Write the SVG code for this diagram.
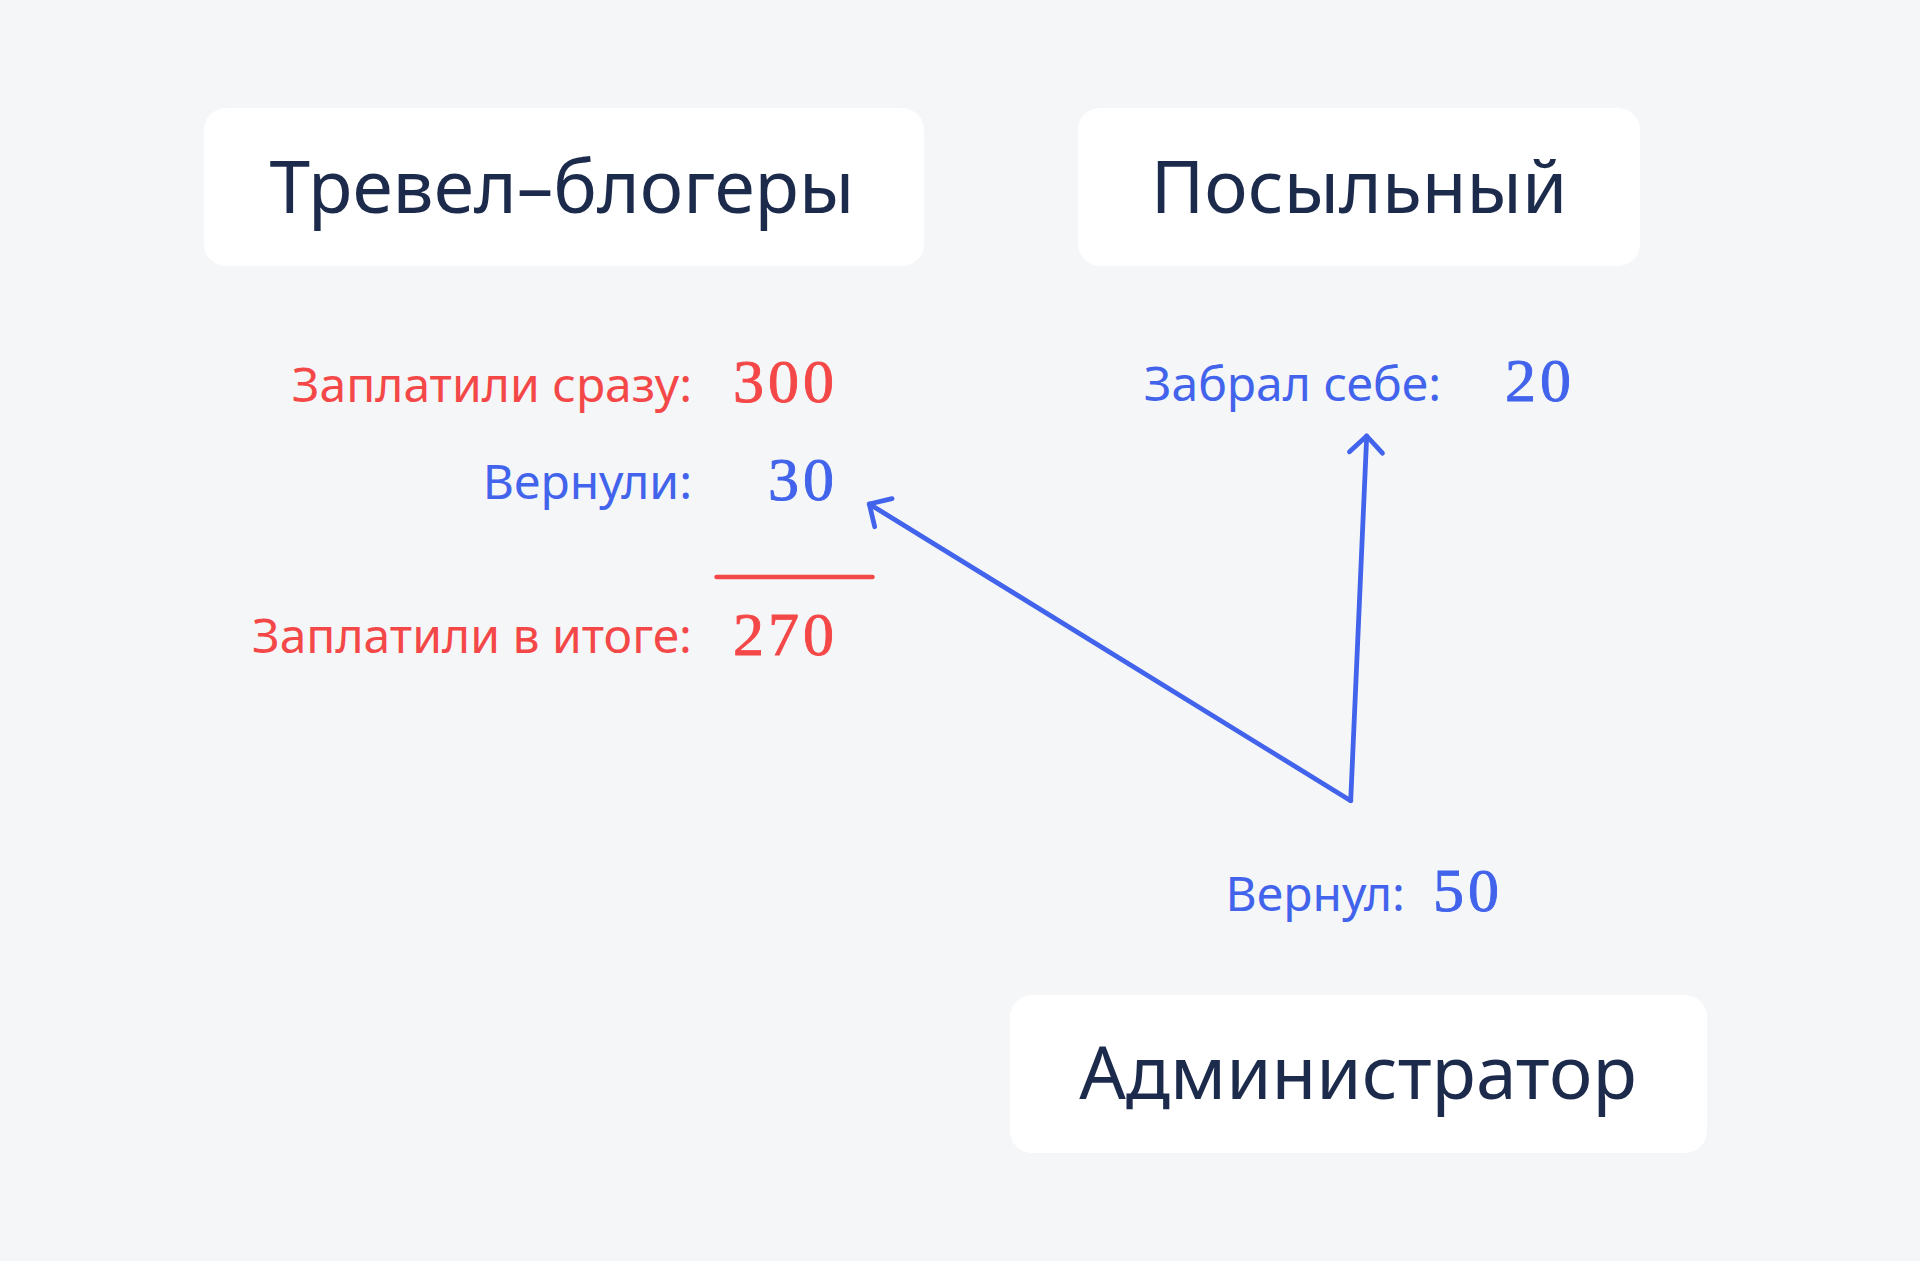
<svg xmlns="http://www.w3.org/2000/svg" width="1920" height="1261" viewBox="0 0 1920 1261">
<style>
.box{fill:#ffffff}
.title{font-family:"Noto Sans","Open Sans",sans-serif;font-size:73px;fill:#1c2b4b;text-anchor:middle}
.lbl{font-family:"Noto Sans","Open Sans",sans-serif;font-size:48px}
.num{font-family:"Liberation Serif","Times New Roman",serif;font-size:62px;letter-spacing:4px;stroke-width:0.9px}
.red{fill:#f44848}
.num.red{stroke:#f44848}
.blue{fill:#4263eb}
.num.blue{stroke:#4263eb}
.conn{fill:none;stroke:#4263eb;stroke-width:4.8;stroke-linecap:round;stroke-linejoin:round}
</style>
<defs>
<marker id="chev" markerUnits="userSpaceOnUse" viewBox="-20 -20 24 40" refX="0" refY="0" markerWidth="24" markerHeight="40" orient="auto" overflow="visible">
<path d="M-16.5,-16.5 L0,0 L-16.5,16.5" fill="none" stroke="#4263eb" stroke-width="4.8" stroke-linecap="round" stroke-linejoin="round"/>
</marker>
</defs>
<rect width="1920" height="1261" fill="#f5f6f8"/>
<g id="node-travelers">
<rect class="box" x="204" y="108" width="720" height="158" rx="22"/>
<text class="title" x="562" y="213">Тревел–блогеры</text>
</g>
<g id="node-courier">
<rect class="box" x="1078" y="108" width="562" height="158" rx="22"/>
<text class="title" x="1359" y="213">Посыльный</text>
</g>
<g id="node-admin">
<rect class="box" x="1010" y="995" width="697" height="158" rx="22"/>
<text class="title" x="1358" y="1099">Администратор</text>
</g>
<g id="labels">
<text class="lbl red" x="692" y="402" text-anchor="end">Заплатили сразу:</text>
<text class="num red" x="838" y="402" text-anchor="end">300</text>
<text class="lbl blue" x="692" y="499" text-anchor="end">Вернули:</text>
<text class="num blue" x="838" y="500" text-anchor="end">30</text>
<line x1="716.5" y1="577" x2="872.5" y2="577" stroke="#f44848" stroke-width="4.5" stroke-linecap="round"/>
<text class="lbl red" x="692" y="653" text-anchor="end">Заплатили в итоге:</text>
<text class="num red" x="838" y="655" text-anchor="end">270</text>
<text class="lbl blue" x="1441" y="401" text-anchor="end">Забрал себе:</text>
<text class="num blue" x="1575" y="401" text-anchor="end">20</text>
<text class="lbl blue" x="1405" y="911" text-anchor="end">Вернул:</text>
<text class="num blue" x="1433" y="911">50</text>
</g>
<g id="connectors">
<path class="conn" d="M1350.7,800.7 L869.3,504" marker-end="url(#chev)"/>
<path class="conn" d="M1350.7,800.7 L1366.7,436" marker-end="url(#chev)"/>
</g>
</svg>
